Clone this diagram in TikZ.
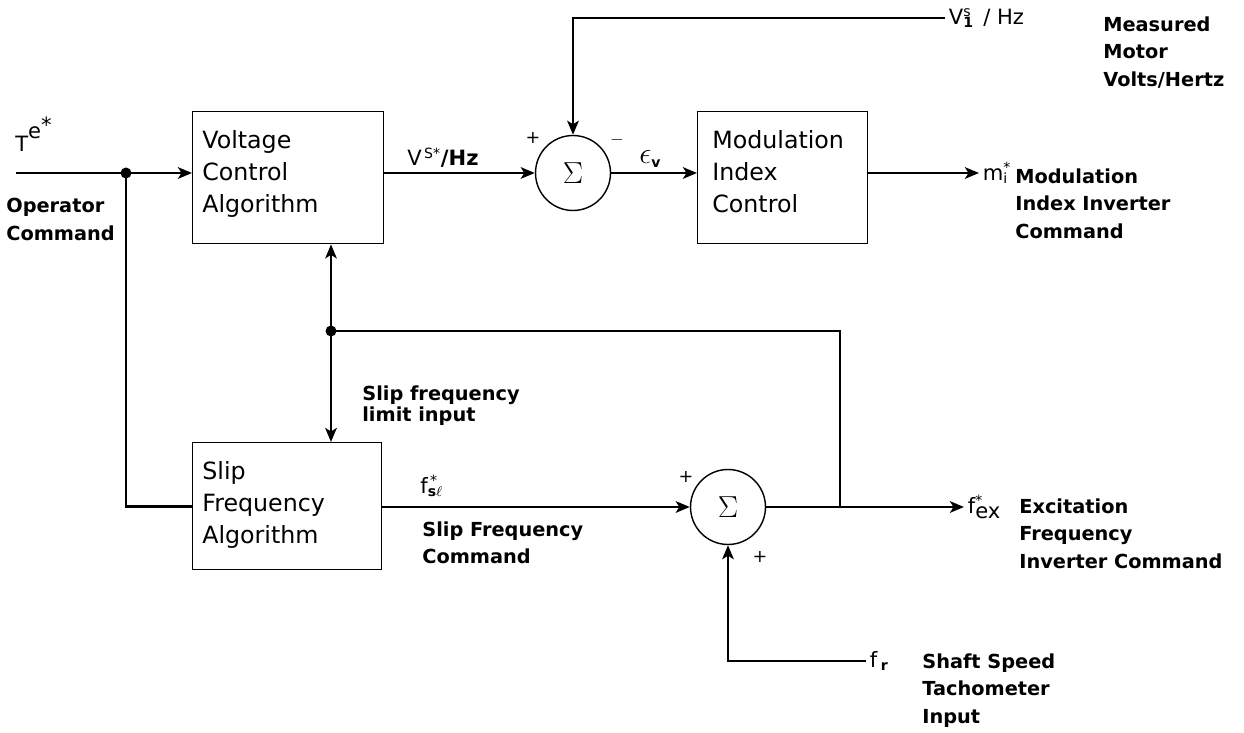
\documentclass[tikz,border=0pt]{standalone}
\usepackage{fontspec}
\setmainfont{DejaVu Sans}
\usepackage{tikz}
\usetikzlibrary{arrows.meta,positioning,calc}

\newcommand{\blkfont}{\fontsize{13.5}{18.2}\selectfont}
\newcommand{\notefont}{\fontsize{11}{15.9}\selectfont\bfseries}
\newcommand{\sigfont}{\fontsize{12}{14}\selectfont}

\begin{document}
\begin{tikzpicture}[
x=0.02cm,
y=-0.02cm,
every node/.style={font=\sigfont},
block/.style={rectangle,draw,line width=0.8pt,anchor=north west,inner sep=0pt},
blocktext/.style={anchor=north west,align=left,inner sep=0pt,font=\blkfont},
summer/.style={circle,draw,line width=0.8pt,minimum size=1.5cm,inner sep=0pt,font=\LARGE},
note/.style={anchor=north west,align=left,inner sep=0pt,font=\notefont},
sig/.style={anchor=base west,inner sep=0pt},
tip/.style={anchor=west,inner xsep=2pt,inner ysep=0pt},
sgn/.style={inner sep=0pt,font=\normalsize},
junct/.style={circle,fill,inner sep=0pt,minimum size=2.2mm},
arr/.style={-{Stealth[length=2.8mm,width=2.3mm,inset=0.7mm]},line width=1.6pt},
dbl/.style={{Stealth[length=2.8mm,width=2.3mm,inset=0.7mm]}-{Stealth[length=2.8mm,width=2.3mm,inset=0.7mm]},line width=1.6pt},
wire/.style={line width=1.6pt}
]
\useasboundingbox (0,0) rectangle (1244,733);

\node[block,minimum width=3.82cm,minimum height=2.64cm] (vca) at (192,111) {};
\node[block,minimum width=3.40cm,minimum height=2.64cm] (mic) at (697,111) {};
\node[block,minimum width=3.78cm,minimum height=2.54cm] (sfa) at (192,442) {};
\node[blocktext] (vcatext) at ([shift={(10,19)}]vca.north west) {Voltage\\Control\\Algorithm};
\node[blocktext] (mictext) at ([shift={(15,19)}]mic.north west) {Modulation\\Index\\Control};
\node[blocktext] (sfatext) at ([shift={(10,19)}]sfa.north west) {Slip\\Frequency\\Algorithm};

\node[summer] (sum1) at (573,173) {$\Sigma$};
\node[summer] (sum2) at (728,507) {$\Sigma$};

\coordinate (in) at (16,173);
\node[junct] (j1) at (126,173) {};
\node[junct] (j2) at (331,331) {};
\coordinate (tap) at (840,507);

\node[sig] (te) at (15,152) {T\raisebox{1.2ex}{e}\raisebox{1.7ex}{*}};
\node[sig] (vsref) at (407,166) {V\textsuperscript{\,S*}{\bfseries /Hz}};
\node[sig] (epsv) at (639,164) {{\fontsize{16}{16}\selectfont$\epsilon$}\textsubscript{\bfseries v}};
\node[sig] (fsl) at (420,493) {f\rlap{\textsuperscript{\,*}}\textsubscript{\bfseries s$\ell$}};

\node[tip] (vm) at (945,18) {V\rlap{\textsuperscript{s}}\textsubscript{\bfseries 1}\;\,/ Hz};
\node[tip] (mi) at (979,173) {m\rlap{\textsuperscript{*}}\textsubscript{i}};
\node[tip] (fex) at (964,507) {f\rlap{\textsuperscript{*}}\textsubscript{\large ex}};
\node[tip] (fr) at (866,661) {f\,\textsubscript{\bfseries r}};

\node[sgn] (p1) at (533,138) {+};
\node[sgn] (m1) at (617,140) {$-$};
\node[sgn] (p2) at (686,477) {+};
\node[sgn] (p3) at (760,557) {+};

\node[note] (opcmd) at (6,198) {Operator\\Command};
\node[note] (slimit) at (362,385) {Slip frequency\\[-0.12cm]limit input};
\node[note] (sfcmd) at (422,521) {Slip Frequency\\Command};
\node[note] (mvh) at (1103,16) {Measured\\Motor\\Volts/Hertz};
\node[note] (micmd) at (1015,168) {Modulation\\Index Inverter\\Command};
\node[note] (fexcmd) at (1019,498) {Excitation\\Frequency\\Inverter Command};
\node[note] (shaft) at (922,653) {Shaft Speed\\Tachometer\\Input};

\draw[arr] (in) -- (vca.west |- in);
\draw[wire] (j1.center) |- (sfa.west);
\draw[arr] (vca.east |- sum1) -- (sum1);
\draw[arr] (sum1) -- (mic.west |- sum1);
\draw[arr] (mic.east |- sum1) -- (mi);
\draw[arr] (vm) -| (sum1);
\draw[dbl] (vca.south -| j2) -- (sfa.north -| j2);
\draw[wire] (j2.center) -| (tap);
\draw[arr] (sfa.east |- sum2) -- (sum2);
\draw[arr] (sum2) -- (fex);
\draw[arr] (fr) -| (sum2);
\end{tikzpicture}
\end{document}
